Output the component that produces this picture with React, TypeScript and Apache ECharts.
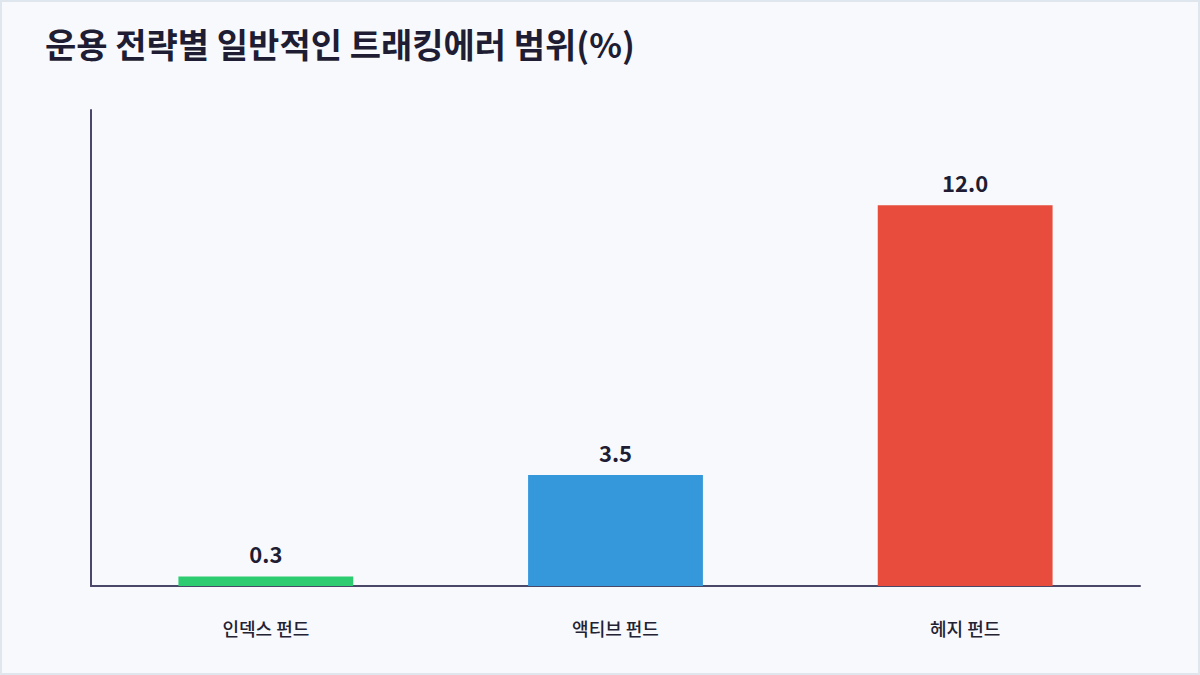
import { useEffect, useRef } from 'react';
import * as echarts from 'echarts';

const categories = ['인덱스 펀드', '액티브 펀드', '헤지 펀드'];
const trackingError = [0.3, 3.5, 12.0];
const barColors = ['#2ecc71', '#3498db', '#e74c3c'];

const App = () => {
  const chartRef = useRef<HTMLDivElement>(null);

  useEffect(() => {
    document.body.style.margin = '0';
    if (chartRef.current) {
      const myChart = echarts.init(chartRef.current, undefined, { renderer: 'svg' });

      const option: echarts.EChartsOption = {
        animation: false,
        textStyle: { fontFamily: '"Noto Sans CJK KR", "Noto Sans", sans-serif' },
        title: {
          text: '운용 전략별 일반적인 트래킹에러 범위(%)',
          left: 38,
          top: 19,
          textStyle: { fontSize: 34, fontWeight: 'bold', color: '#1e1d33' }
        },
        grid: { left: 89, right: 58, top: 108, bottom: 87 },
        xAxis: {
          type: 'category',
          data: categories,
          axisLine: { lineStyle: { color: '#4a4868', width: 2 } },
          axisTick: { show: false },
          axisLabel: { fontSize: 18, fontWeight: 500, color: '#222233', margin: 33 }
        },
        yAxis: {
          type: 'value',
          min: 0,
          max: 15,
          axisLine: { show: true, lineStyle: { color: '#4a4868', width: 2 } },
          axisTick: { show: false },
          axisLabel: { show: false },
          splitLine: { show: false }
        },
        series: [{
          type: 'bar',
          barWidth: '50%',
          data: trackingError.map((v, i) => ({ value: v, itemStyle: { color: barColors[i] } })),
          label: {
            show: true,
            position: 'top',
            distance: 12,
            fontSize: 22,
            fontWeight: 'bold',
            color: '#1e1d33',
            formatter: (p: any) => Number(p.value).toFixed(1)
          }
        }]
      };

      myChart.setOption(option);

      return () => {
        myChart.dispose();
      };
    }
  }, []);

  return (
    <div style={{ width: 1200, height: 675, boxSizing: 'border-box', border: '2px solid #dfe6ee', background: '#f8f9fd' }}>
      <div ref={chartRef} style={{ width: 1196, height: 671 }} />
    </div>
  );
};

export default App;
